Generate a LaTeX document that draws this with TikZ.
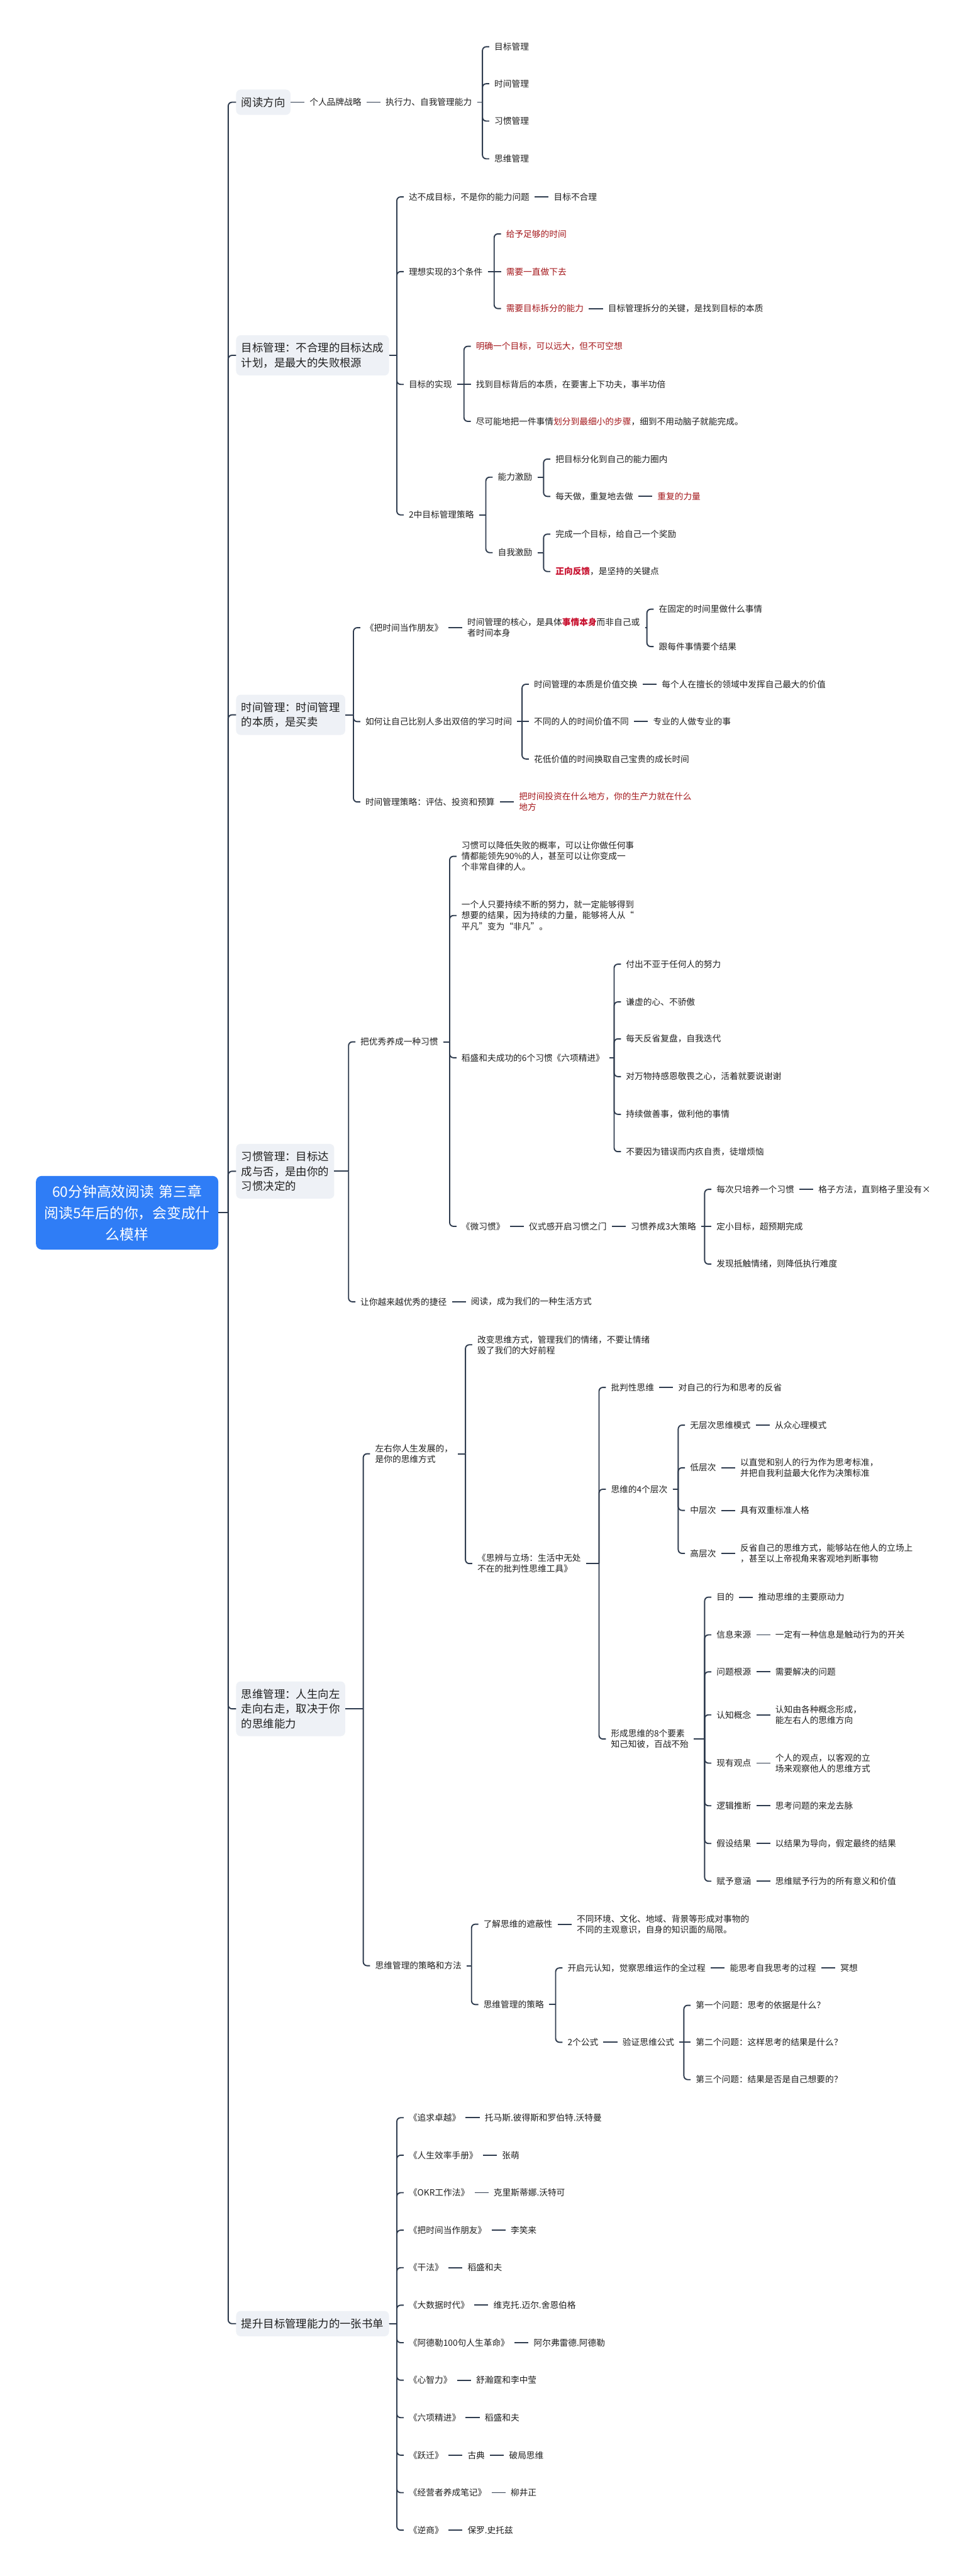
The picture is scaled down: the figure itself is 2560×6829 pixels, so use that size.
\documentclass[tikz,border=0pt]{standalone}
\usepackage{fontspec}
\setmainfont{Noto Sans CJK SC}
\usetikzlibrary{positioning,calc}

\definecolor{linecol}{HTML}{2E3B4E}
\definecolor{boxfill}{HTML}{EEF1F6}
\definecolor{rootblue}{HTML}{2F7DF6}
\definecolor{darkred}{HTML}{A4161A}
\definecolor{hotred}{HTML}{C8102E}
\definecolor{ink}{HTML}{1F1F1F}

\tikzset{
  root/.style={rectangle, rounded corners=1.5mm, fill=rootblue, text=white, align=center,
    text width=4.6cm, inner xsep=1.15mm, minimum height=1.95cm,
    font=\fontsize{10.8pt}{16.2pt}\selectfont},
  main/.style={rectangle, rounded corners=1.2mm, fill=boxfill, text=ink, align=left,
    anchor=west, inner xsep=1.4mm, inner ysep=2mm, outer sep=0pt,
    font=\fontsize{8.25pt}{11.1pt}\selectfont},
  leaf/.style={anchor=west, align=left, text=ink, inner xsep=1.3mm, inner ysep=0.6mm,
    font=\fontsize{6.5pt}{8.1pt}\selectfont},
  hot/.style={leaf, text=darkred},
  conn/.style={draw=linecol, line width=0.9pt}
}

% stub from the parent, then a rounded hook into the child
\newcommand{\branch}[3][1.8mm]{%
  \draw[conn] (#2.east) -- ($(#3.west |- #2.east)+(-#1,0)$);
  \draw[conn, rounded corners=1mm] ($(#3.west |- #2.east)+(-#1,0)$) |- (#3.west);}
% straight link, same height
\newcommand{\chain}[2]{\draw[conn] (#1.east) -- (#2.west);}

\begin{document}
\begin{tikzpicture}[x=0.01cm, y=-0.01cm, node distance=3.7mm]
    \fill[white] (0,0) rectangle (2560,6829);
    \useasboundingbox (0,0) rectangle (2560,6829);

    \node[root] (root) at (337,3215) {60分钟高效阅读 第三章\\阅读5年后的你，会变成什\\么模样};

    \node[main] (read) at (626,271) {阅读方向};
    \node[main] (goal) at (626,942) {目标管理：不合理的目标达成\\计划，是最大的失败根源};
    \node[main] (time) at (626,1895) {时间管理：时间管理\\的本质，是买卖};
    \node[main] (habit) at (626,3105) {习惯管理：目标达\\成与否，是由你的\\习惯决定的};
    \node[main] (think) at (626,4530) {思维管理：人生向左\\走向右走，取决于你\\的思维能力};
    \node[main] (books) at (626,6160) {提升目标管理能力的一张书单};
    \foreach \m in {read,goal,time,habit,think,books} {\branch[2.1mm]{root}{\m}}

    % reading direction
    \node[leaf, right=of read] (brand) {个人品牌战略};
    \node[leaf, right=of brand] (self) {执行力、自我管理能力};
    \node[leaf] (self1) at (1297,124) {目标管理};
    \node[leaf] (self2) at (1297,222) {时间管理};
    \node[leaf] (self3) at (1297,321) {习惯管理};
    \node[leaf] (self4) at (1297,421) {思维管理};
    \chain{read}{brand}
    \chain{brand}{self}
    \foreach \c in {self1,self2,self3,self4} {\branch{self}{\c}}

    % goal management
    \node[leaf] (goal1) at (1070,522) {达不成目标，不是你的能力问题};
    \node[leaf, right=of goal1] (goal1a) {目标不合理};
    \node[leaf] (goal2) at (1070,720) {理想实现的3个条件};
    \node[hot] (goal2a) at (1328,620) {给予足够的时间};
    \node[hot] (goal2b) at (1328,720) {需要一直做下去};
    \node[hot] (goal2c) at (1328,818) {需要目标拆分的能力};
    \node[leaf, right=of goal2c] (goal2d) {目标管理拆分的关键，是找到目标的本质};
    \node[leaf] (goal3) at (1070,1019) {目标的实现};
    \node[hot] (goal3a) at (1248,918) {明确一个目标，可以远大，但不可空想};
    \node[leaf] (goal3b) at (1248,1019) {找到目标背后的本质，在要害上下功夫，事半功倍};
    \node[leaf] (goal3c) at (1248,1117) {尽可能地把一件事情\textcolor{darkred}{划分到最细小的步骤}，细到不用动脑子就能完成。};
    \node[leaf] (goal4) at (1070,1365) {2中目标管理策略};
    \node[leaf] (goal4a) at (1306,1265) {能力激励};
    \node[leaf] (goal4b) at (1306,1465) {自我激励};
    \node[leaf] (goal4a1) at (1459,1217) {把目标分化到自己的能力圈内};
    \node[leaf] (goal4a2) at (1459,1316) {每天做，重复地去做};
    \node[hot, right=of goal4a2] (goal4a3) {重复的力量};
    \node[leaf] (goal4b1) at (1459,1416) {完成一个目标，给自己一个奖励};
    \node[leaf] (goal4b2) at (1459,1515) {\textcolor{hotred}{\bfseries 正向反馈}，是坚持的关键点};
    \foreach \c in {goal1,goal2,goal3,goal4} {\branch{goal}{\c}}
    \chain{goal1}{goal1a}
    \foreach \c in {goal2a,goal2c} {\branch{goal2}{\c}}
    \chain{goal2}{goal2b}
    \chain{goal2c}{goal2d}
    \foreach \c in {goal3a,goal3c} {\branch{goal3}{\c}}
    \chain{goal3}{goal3b}
    \foreach \c in {goal4a,goal4b} {\branch{goal4}{\c}}
    \foreach \c in {goal4a1,goal4a2} {\branch{goal4a}{\c}}
    \chain{goal4a2}{goal4a3}
    \foreach \c in {goal4b1,goal4b2} {\branch{goal4b}{\c}}

    % time management
    \node[leaf] (time1) at (955,1664) {《把时间当作朋友》};
    \node[leaf, right=of time1] (time1a) {时间管理的核心，是具体\textcolor{hotred}{\bfseries 事情本身}而非自己或\\者时间本身};
    \node[leaf] (time1a1) at (1733,1615) {在固定的时间里做什么事情};
    \node[leaf] (time1a2) at (1733,1714) {跟每件事情要个结果};
    \node[leaf] (time2) at (955,1913) {如何让自己比别人多出双倍的学习时间};
    \node[leaf] (time2a) at (1402,1814) {时间管理的本质是价值交换};
    \node[leaf, right=of time2a] (time2a1) {每个人在擅长的领域中发挥自己最大的价值};
    \node[leaf] (time2b) at (1402,1913) {不同的人的时间价值不同};
    \node[leaf, right=of time2b] (time2b1) {专业的人做专业的事};
    \node[leaf] (time2c) at (1402,2012) {花低价值的时间换取自己宝贵的成长时间};
    \node[leaf] (time3) at (955,2126) {时间管理策略：评估、投资和预算};
    \node[hot, right=of time3] (time3a) {把时间投资在什么地方，你的生产力就在什么\\地方};
    \foreach \c in {time1,time2,time3} {\branch{time}{\c}}
    \chain{time1}{time1a}
    \foreach \c in {time1a1,time1a2} {\branch{time1a}{\c}}
    \foreach \c in {time2a,time2c} {\branch{time2}{\c}}
    \chain{time2}{time2b}
    \chain{time2a}{time2a1}
    \chain{time2b}{time2b1}
    \chain{time3}{time3a}

    % habit management
    \node[leaf] (habit1) at (942,2762) {把优秀养成一种习惯};
    \node[leaf] (habit1a) at (1210,2270) {习惯可以降低失败的概率，可以让你做任何事\\情都能领先90\%的人，甚至可以让你变成一\\个非常自律的人。};
    \node[leaf] (habit1b) at (1210,2427) {一个人只要持续不断的努力，就一定能够得到\\想要的结果，因为持续的力量，能够将人从“\\平凡”变为“非凡”。};
    \node[leaf] (habit1c) at (1210,2804) {稻盛和夫成功的6个习惯《六项精进》};
    \node[leaf] (six1) at (1646,2556) {付出不亚于任何人的努力};
    \node[leaf] (six2) at (1646,2656) {谦虚的心、不骄傲};
    \node[leaf] (six3) at (1646,2754) {每天反省复盘，自我迭代};
    \node[leaf] (six4) at (1646,2854) {对万物持感恩敬畏之心，活着就要说谢谢};
    \node[leaf] (six5) at (1646,2954) {持续做善事，做利他的事情};
    \node[leaf] (six6) at (1646,3053) {不要因为错误而内疚自责，徒增烦恼};
    \node[leaf] (habit1d) at (1210,3251) {《微习惯》};
    \node[leaf, right=of habit1d] (ritual) {仪式感开启习惯之门};
    \node[leaf, right=of ritual] (tactic) {习惯养成3大策略};
    \node[leaf] (tactic1) at (1886,3153) {每次只培养一个习惯};
    \node[leaf, right=of tactic1] (grid) {格子方法，直到格子里没有×};
    \node[leaf] (tactic2) at (1886,3251) {定小目标，超预期完成};
    \node[leaf] (tactic3) at (1886,3351) {发现抵触情绪，则降低执行难度};
    \node[leaf] (habit2) at (942,3451) {让你越来越优秀的捷径};
    \node[leaf, right=of habit2] (habit2a) {阅读，成为我们的一种生活方式};
    \foreach \c in {habit1,habit2} {\branch{habit}{\c}}
    \foreach \c in {habit1a,habit1b,habit1c,habit1d} {\branch{habit1}{\c}}
    \foreach \c in {six1,six2,six3,six4,six5,six6} {\branch{habit1c}{\c}}
    \chain{habit1d}{ritual}
    \chain{ritual}{tactic}
    \foreach \c in {tactic1,tactic3} {\branch{tactic}{\c}}
    \chain{tactic}{tactic2}
    \chain{tactic1}{grid}
    \chain{habit2}{habit2a}

    % thinking management
    \node[leaf] (think1) at (981,3854) {左右你人生发展的，\\是你的思维方式};
    \node[leaf] (think1a) at (1252,3565) {改变思维方式，管理我们的情绪，不要让情绪\\毁了我们的大好前程};
    \node[leaf] (think1b) at (1252,4145) {《思辨与立场：生活中无处\\不在的批判性思维工具》};
    \node[leaf] (crit) at (1606,3678) {批判性思维};
    \node[leaf, right=of crit] (crita) {对自己的行为和思考的反省};
    \node[leaf] (level) at (1606,3948) {思维的4个层次};
    \node[leaf] (level1) at (1816,3778) {无层次思维模式};
    \node[leaf, right=of level1] (level1a) {从众心理模式};
    \node[leaf] (level2) at (1816,3891) {低层次};
    \node[leaf, right=of level2] (level2a) {以直觉和别人的行为作为思考标准，\\并把自我利益最大化作为决策标准};
    \node[leaf] (level3) at (1816,4004) {中层次};
    \node[leaf, right=of level3] (level3a) {具有双重标准人格};
    \node[leaf] (level4) at (1816,4118) {高层次};
    \node[leaf, right=of level4] (level4a) {反省自己的思维方式，能够站在他人的立场上\\，甚至以上帝视角来客观地判断事物};
    \node[leaf] (elem) at (1606,4610) {形成思维的8个要素\\知己知彼，百战不殆};
    \foreach \k/\y/\a/\b in {%
      1/4234/目的/推动思维的主要原动力,%
      2/4334/信息来源/一定有一种信息是触动行为的开关,%
      3/4432/问题根源/需要解决的问题,%
      4/4546/认知概念/{认知由各种概念形成，\\能左右人的思维方向},%
      5/4674/现有观点/{个人的观点，以客观的立\\场来观察他人的思维方式},%
      6/4787/逻辑推断/思考问题的来龙去脉,%
      7/4887/假设结果/以结果为导向，假定最终的结果,%
      8/4987/赋予意涵/思维赋予行为的所有意义和价值} {
      \node[leaf] (elem\k) at (1886,\y) {\a};
      \node[leaf, right=of elem\k] (elem\k a) {\b};
      \branch{elem}{elem\k}
      \chain{elem\k}{elem\k a}
    }
    \node[leaf] (think2) at (981,5211) {思维管理的策略和方法};
    \node[leaf] (think2a) at (1268,5101) {了解思维的遮蔽性};
    \node[leaf, right=of think2a] (think2a1) {不同环境、文化、地域、背景等形成对事物的\\不同的主观意识，自身的知识面的局限。};
    \node[leaf] (think2b) at (1268,5314) {思维管理的策略};
    \node[leaf] (meta) at (1491,5217) {开启元认知，觉察思维运作的全过程};
    \node[leaf, right=of meta] (meta1) {能思考自我思考的过程};
    \node[leaf, right=of meta1] (meta2) {冥想};
    \node[leaf] (formula) at (1491,5414) {2个公式};
    \node[leaf, right=of formula] (check) {验证思维公式};
    \node[leaf] (ask1) at (1831,5316) {第一个问题：思考的依据是什么？};
    \node[leaf] (ask2) at (1831,5414) {第二个问题：这样思考的结果是什么？};
    \node[leaf] (ask3) at (1831,5513) {第三个问题：结果是否是自己想要的？};
    \foreach \c in {think1,think2} {\branch{think}{\c}}
    \foreach \c in {think1a,think1b} {\branch{think1}{\c}}
    \foreach \c in {crit,level,elem} {\branch{think1b}{\c}}
    \chain{crit}{crita}
    \foreach \c in {level1,level2,level3,level4} {\branch{level}{\c}}
    \chain{level1}{level1a}
    \chain{level2}{level2a}
    \chain{level3}{level3a}
    \chain{level4}{level4a}
    \foreach \c in {think2a,think2b} {\branch{think2}{\c}}
    \chain{think2a}{think2a1}
    \foreach \c in {meta,formula} {\branch{think2b}{\c}}
    \chain{meta}{meta1}
    \chain{meta1}{meta2}
    \chain{formula}{check}
    \foreach \c in {ask1,ask3} {\branch{check}{\c}}
    \chain{check}{ask2}

    % reading list
    \foreach \bk/\au [count=\i] in {%
      追求卓越/托马斯.彼得斯和罗伯特.沃特曼,%
      人生效率手册/张萌,%
      OKR工作法/克里斯蒂娜.沃特可,%
      把时间当作朋友/李笑来,%
      干法/稻盛和夫,%
      大数据时代/维克托.迈尔.舍恩伯格,%
      阿德勒100句人生革命/阿尔弗雷德.阿德勒,%
      心智力/舒瀚霆和李中莹,%
      六项精进/稻盛和夫,%
      跃迁/古典,%
      经营者养成笔记/柳井正,%
      逆商/保罗.史托兹} {
      \node[leaf] (book\i) at (1070,{5614+99.4*(\i-1)}) {《\bk》};
      \node[leaf, right=of book\i] (auth\i) {\au};
      \branch{books}{book\i}
      \chain{book\i}{auth\i}
    }
    \node[leaf, right=of auth10] (auth10b) {破局思维};
    \chain{auth10}{auth10b}
\end{tikzpicture}
\end{document}
